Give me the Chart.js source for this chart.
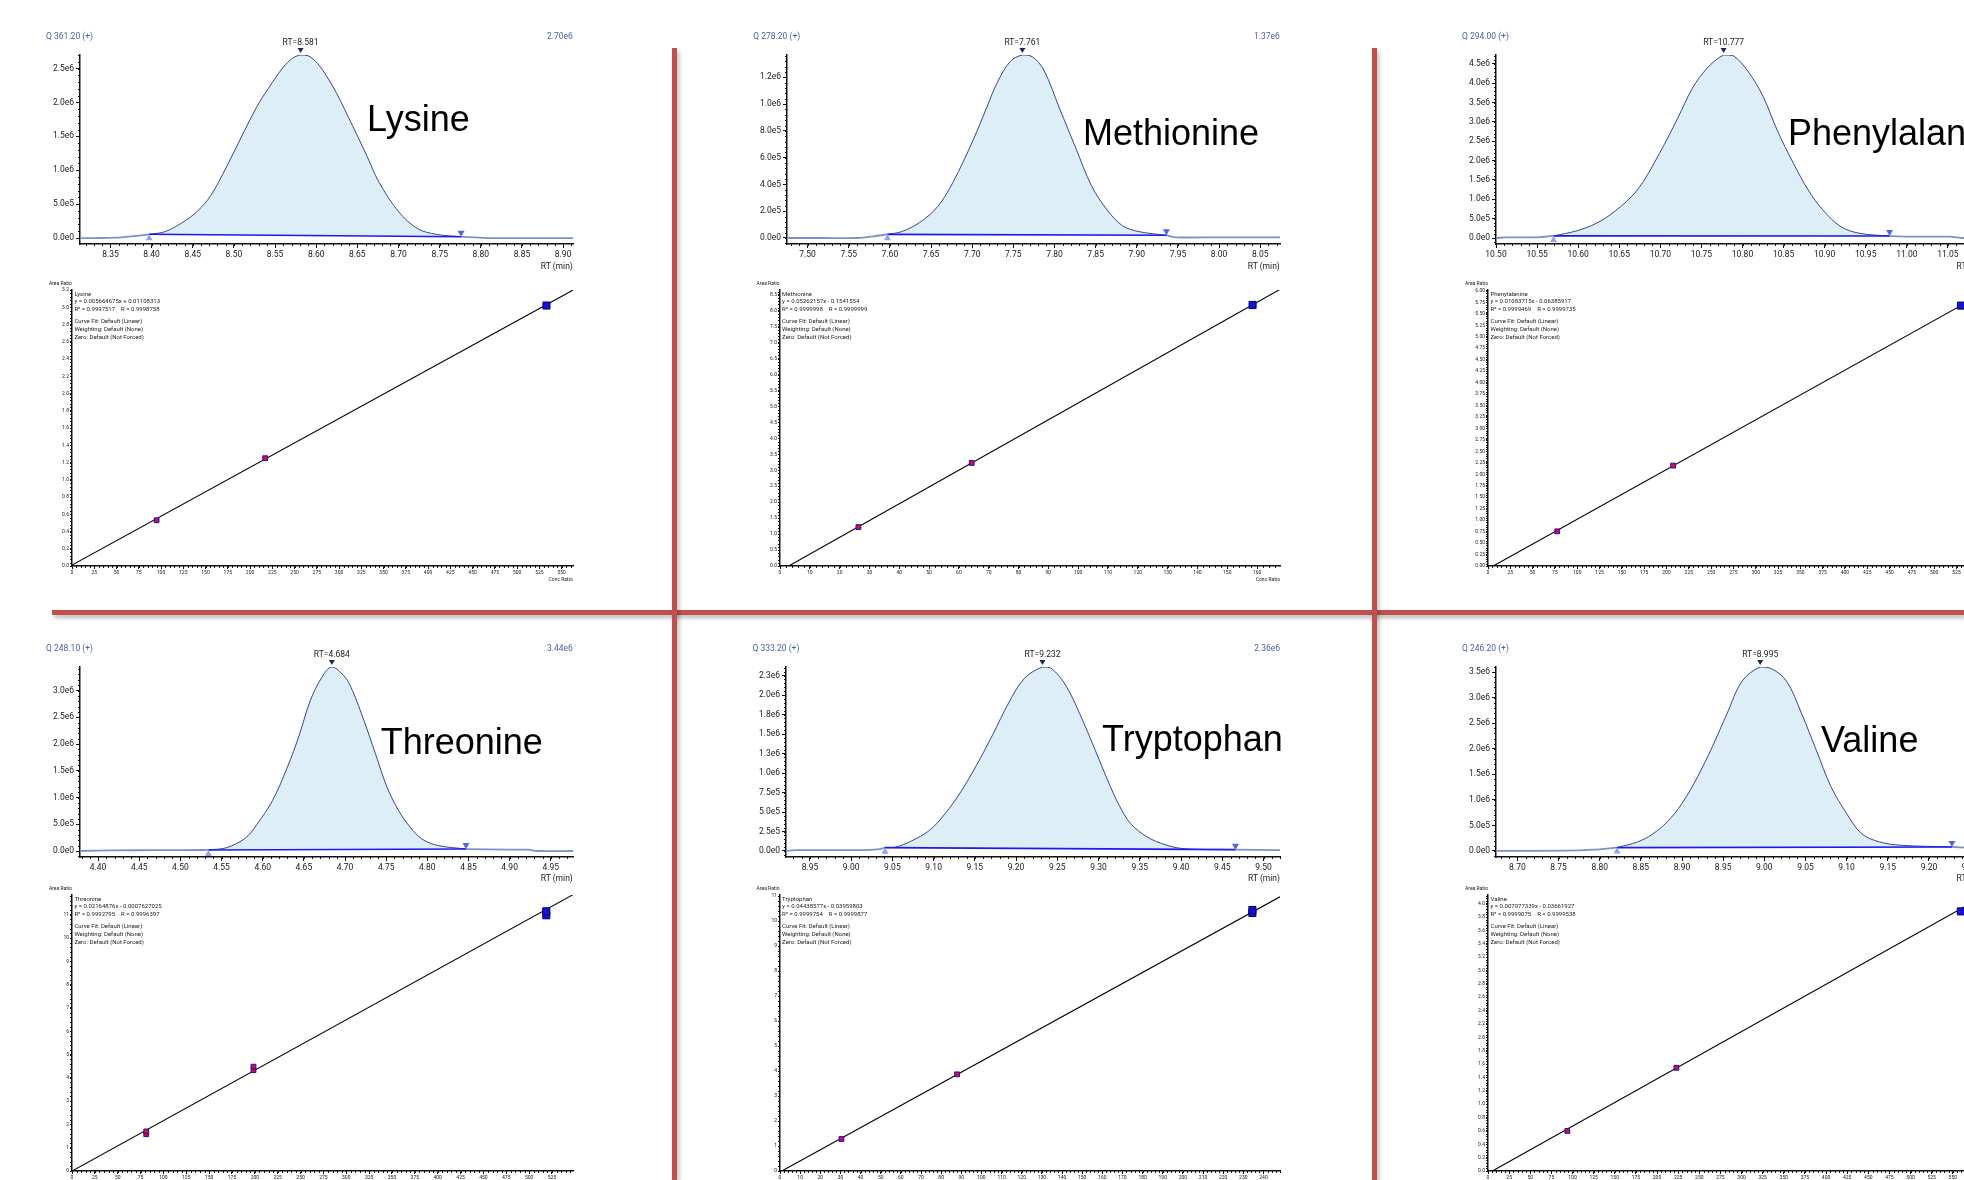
<!DOCTYPE html>
<html>
<head>
<meta charset="utf-8">
<script src="https://cdn.jsdelivr.net/npm/chart.js@4.4.1/dist/chart.umd.min.js"></script>
<style>
  html, body { margin: 0; padding: 0; background: #fff; overflow: hidden; }
  body { width: 1964px; height: 1180px; position: relative; font-family: Roboto, 'Liberation Sans', sans-serif; }
  canvas { position: absolute; }
  .t { position: absolute; white-space: nowrap; line-height: 1; }
  .name { position: absolute; white-space: nowrap; line-height: 1; font-family: 'Liberation Sans', Arial, sans-serif; font-size: 36px; color: #000; }
  .sep { position: absolute; background: #c0504d; box-shadow: 2px 3px 4px rgba(0,0,0,0.28); }
</style>
</head>
<body>
<div class="sep" style="left:52px; top:610px; width:1912px; height:5px;"></div>
<div class="sep" style="left:672px; top:48px; width:5px; height:1132px;"></div>
<div class="sep" style="left:1372px; top:48px; width:5px; height:1132px;"></div>
<script>
// ---- chromatogram traces: RT (min) / intensity (millions of counts)
const lysRt  = [8.313, 8.330, 8.356, 8.380, 8.397, 8.416, 8.437, 8.456, 8.472, 8.491, 8.509, 8.528, 8.542, 8.560, 8.571, 8.581, 8.590, 8.602, 8.613, 8.625, 8.644, 8.662, 8.676, 8.700, 8.723, 8.746, 8.776, 8.806, 8.850, 8.912];
const lysInt = [0, 0, 0.005, 0.03, 0.055, 0.093, 0.226, 0.40, 0.63, 1.05, 1.49, 1.94, 2.21, 2.52, 2.65, 2.70, 2.69, 2.57, 2.38, 2.13, 1.66, 1.20, 0.83, 0.39, 0.14, 0.054, 0.02, 0, 0, 0];
const lysPeak = [8.581, 8.397, 8.776];   // apex, start, end

const metRt  = [7.475, 7.520, 7.561, 7.580, 7.597, 7.614, 7.636, 7.658, 7.677, 7.701, 7.718, 7.730, 7.746, 7.761, 7.773, 7.787, 7.806, 7.826, 7.845, 7.864, 7.883, 7.903, 7.936, 7.948, 8.000, 8.074];
const metInt = [0, 0, 0, 0.012, 0.027, 0.047, 0.115, 0.234, 0.42, 0.73, 0.98, 1.155, 1.317, 1.367, 1.354, 1.255, 0.97, 0.67, 0.39, 0.209, 0.09, 0.047, 0.02, 0.005, 0.005, 0.005];
const metPeak = [7.761, 7.597, 7.936];

const pheRt  = [10.500, 10.513, 10.549, 10.570, 10.599, 10.622, 10.644, 10.672, 10.699, 10.721, 10.739, 10.757, 10.777, 10.789, 10.807, 10.825, 10.843, 10.862, 10.880, 10.898, 10.920, 10.943, 10.979, 11.015, 11.052, 11.069, 11.100];
const pheInt = [0, 0.017, 0.017, 0.055, 0.19, 0.38, 0.68, 1.24, 2.19, 3.09, 3.87, 4.39, 4.73, 4.71, 4.30, 3.66, 2.75, 1.93, 1.24, 0.72, 0.29, 0.12, 0.05, 0.034, 0.034, 0, 0];
const phePeak = [10.777, 10.570, 10.979];

const thrRt  = [4.378, 4.416, 4.470, 4.528, 4.534, 4.556, 4.579, 4.593, 4.612, 4.630, 4.644, 4.658, 4.672, 4.684, 4.700, 4.709, 4.723, 4.737, 4.751, 4.765, 4.779, 4.793, 4.812, 4.847, 4.900, 4.923, 4.933, 4.977];
const thrInt = [0, 0.012, 0.015, 0.019, 0.02, 0.062, 0.243, 0.498, 0.946, 1.568, 2.15, 2.82, 3.25, 3.44, 3.249, 3.0, 2.44, 1.817, 1.195, 0.759, 0.448, 0.23, 0.106, 0.037, 0.025, 0.025, 0, 0];
const thrPeak = [4.684, 4.534, 4.847];

const trpRt  = [8.921, 8.932, 9.013, 9.032, 9.041, 9.054, 9.073, 9.095, 9.114, 9.133, 9.152, 9.172, 9.191, 9.210, 9.232, 9.243, 9.260, 9.277, 9.296, 9.311, 9.325, 9.339, 9.359, 9.383, 9.407, 9.466, 9.520];
const trpInt = [0, 0.01, 0.01, 0.02, 0.043, 0.05, 0.128, 0.265, 0.48, 0.76, 1.10, 1.50, 1.90, 2.213, 2.36, 2.34, 2.128, 1.764, 1.293, 0.908, 0.586, 0.351, 0.18, 0.073, 0.026, 0.017, 0.01];
const trpPeak = [9.232, 9.041, 9.466];

const valRt  = [8.674, 8.760, 8.792, 8.821, 8.846, 8.864, 8.882, 8.900, 8.919, 8.937, 8.955, 8.973, 8.995, 9.009, 9.027, 9.045, 9.063, 9.081, 9.100, 9.118, 9.140, 9.167, 9.228, 9.243, 9.273];
const valInt = [0, 0.007, 0.026, 0.066, 0.177, 0.328, 0.57, 0.93, 1.455, 2.045, 2.70, 3.323, 3.60, 3.565, 3.323, 2.70, 1.979, 1.258, 0.734, 0.341, 0.177, 0.111, 0.079, 0.066, 0.05];
const valPeak = [8.995, 8.821, 9.228];

// ---- calibration standards: conc ratio / area ratio, fit [slope, intercept], [R2, R]
const lysConc  = [95, 217, 533];
const lysRatio = [0.53, 1.25, 3.02];
const lysFit = [0.005664675, 0.01108313];
const lysR = ['0.9997517', '0.9998758'];

const metConc  = [26.3, 64.3, 158.5];
const metRatio = [1.22, 3.23, 8.18];
const metFit = [0.05262157, -0.1541554];
const metR = ['0.9999998', '0.9999999'];

const pheConc  = [77.6, 207.4, 530];
const pheRatio = [0.756, 2.19, 5.68];
const pheFit = [0.01083715, -0.06385917];
const pheR = ['0.9999469', '0.9999735'];

const thrConc  = [81.2, 81.2, 198.5, 198.5, 518.8, 518.8];
const thrRatio = [1.58, 1.70, 4.33, 4.48, 10.98, 11.15];
const thrFit = [0.02164876, -0.0007627025];
const thrR = ['0.9992795', '0.9996397'];

const trpConc  = [30.5, 87.9, 234.5, 234.5];
const trpRatio = [1.28, 3.87, 10.33, 10.45];
const trpFit = [0.04438577, -0.03959803];
const trpR = ['0.9999754', '0.9999877'];

const valConc  = [93.9, 222.9, 559.5];
const valRatio = [0.60, 1.545, 3.885];
const valFit = [0.007077339, -0.03661927];
const valR = ['0.9999075', '0.9999538'];

// ---- helpers
function label(text, x, y, size, color, align) {
  const d = document.createElement('div');
  d.className = 't';
  d.textContent = text;
  d.style.left = x + 'px';
  d.style.top = y + 'px';
  d.style.fontSize = size + 'px';
  d.style.color = color;
  const tx = align === 'right' ? '-100%' : align === 'center' ? '-50%' : '0';
  d.style.transform = 'translate(' + tx + ', -50%)';
  document.body.appendChild(d);
  return d;
}

function bigName(text, x, y) {
  const d = document.createElement('div');
  d.className = 'name';
  d.textContent = text;
  d.style.left = x + 'px';
  d.style.top = y + 'px';
  d.style.transform = 'translateY(-50%)';
  document.body.appendChild(d);
}

function makeCanvas(box, axisW, axisH, padTop, padRight) {
  const c = document.createElement('canvas');
  c.width = Math.round(axisW + (box.r - box.l) + padRight);
  c.height = Math.round(padTop + (box.b - box.t) + axisH);
  c.style.left = (box.l - axisW) + 'px';
  c.style.top = (box.t - padTop) + 'px';
  document.body.appendChild(c);
  return c;
}

const minorTicks = {
  id: 'minorTicks',
  afterDraw(chart, args, opts) {
    const ctx = chart.ctx;
    ctx.save();
    ctx.strokeStyle = '#111';
    ctx.lineWidth = 1;
    ctx.beginPath();
    ['x', 'y'].forEach(id => {
      const s = chart.scales[id];
      const step = opts[id];
      if (!step) return;
      for (let i = Math.ceil(s.min / step - 1e-6); i * step <= s.max + 1e-9; i++) {
        const p = Math.round(s.getPixelForValue(i * step)) + 0.5;
        if (id === 'x') {
          ctx.moveTo(p, s.top);
          ctx.lineTo(p, s.top + opts.len);
        } else {
          ctx.moveTo(s.right, p);
          ctx.lineTo(s.right - opts.len, p);
        }
      }
    });
    ctx.stroke();
    ctx.restore();
  }
};

function tri(ctx, x, tipY, w, h, up, color) {
  ctx.beginPath();
  ctx.moveTo(x, tipY);
  ctx.lineTo(x - w / 2, up ? tipY + h : tipY - h);
  ctx.lineTo(x + w / 2, up ? tipY + h : tipY - h);
  ctx.closePath();
  ctx.fillStyle = color;
  ctx.fill();
}

const peakMarks = {
  id: 'peakMarks',
  afterDatasetsDraw(chart, args, opts) {
    if (!opts.apex) return;
    const ctx = chart.ctx, x = chart.scales.x, y = chart.scales.y;
    ctx.save();
    const ax = x.getPixelForValue(opts.apex[0]), ay = y.getPixelForValue(opts.apex[1]);
    tri(ctx, ax, ay - 2, 6, 5, false, '#1b2566');
    ctx.fillStyle = '#222';
    ctx.font = '8.5px Roboto';
    ctx.textAlign = 'center';
    ctx.textBaseline = 'middle';
    ctx.fillText('RT=' + opts.apex[0].toFixed(3), ax, ay - 12);
    tri(ctx, x.getPixelForValue(opts.start[0]), y.getPixelForValue(opts.start[1]), 7, 6, true, '#8fa3f2');
    tri(ctx, x.getPixelForValue(opts.end[0]), y.getPixelForValue(opts.end[1]), 7, 6, false, '#4f66e0');
    ctx.restore();
  }
};

function axisOpts(min, max, step, fmt, fixSize, horizontal, font, tl, pad) {
  return {
    type: 'linear',
    min: min, max: max,
    border: { display: true, color: '#111', width: 1.5 },
    grid: { drawOnChartArea: false, drawTicks: true, tickLength: tl, color: '#111' },
    ticks: { stepSize: step, includeBounds: false, autoSkip: false, maxRotation: 0,
             padding: pad, color: '#1a1a1a', font: { family: 'Roboto', size: font }, callback: fmt },
    afterFit: horizontal ? (s => { s.height = fixSize; }) : (s => { s.width = fixSize; })
  };
}

// ---- chromatogram panel
function chrom(box, rt, inten, peak, yMin, yStep, name, namePos, q, maxLabel) {
  const yMax = Math.max(...inten);
  const pts = rt.map((v, i) => ({ x: v, y: inten[i] }));
  const at = t => inten[rt.indexOf(t)];
  const start = [peak[1], at(peak[1])];
  const end = [peak[2], at(peak[2])];
  const c = makeCanvas(box, 40, 20, 22, 24);
  new Chart(c, {
    type: 'line',
    data: {
      datasets: [
        { data: pts.filter(p => p.x <= peak[1]), borderColor: '#7f8fcb', borderWidth: 1.8, pointRadius: 0, tension: 0.3, order: 4 },
        { data: pts.filter(p => p.x >= peak[2]), borderColor: '#7f8fcb', borderWidth: 1.8, pointRadius: 0, tension: 0.3, order: 4 },
        { data: pts.filter(p => p.x >= peak[1] && p.x <= peak[2]), borderColor: '#34468f', borderWidth: 1,
          pointRadius: 0, tension: 0.35, fill: 3, backgroundColor: '#ddeef6', order: 3 },
        { data: [{ x: start[0], y: start[1] }, { x: end[0], y: end[1] }], borderColor: '#1a1af0', borderWidth: 1.6, pointRadius: 0, order: 1 }
      ]
    },
    options: {
      responsive: false, animation: false, events: [],
      layout: { padding: { top: 22, right: 24, left: 0, bottom: 0 } },
      scales: {
        x: axisOpts(rt[0], rt[rt.length - 1], 0.05, v => v.toFixed(2), 20, true, 8.5, 4, 2),
        y: axisOpts(yMin, yMax, yStep, v => (v * 1e6).toExponential(1).replace('+', ''), 40, false, 8.5, 4, 2)
      },
      plugins: {
        legend: { display: false }, tooltip: { enabled: false },
        minorTicks: { x: 0.01, y: yStep / 5, len: 2 },
        peakMarks: { apex: [peak[0], yMax], start: start, end: end }
      }
    },
    plugins: [minorTicks, peakMarks]
  });
  label(q, box.l - 33.5, box.t - 19, 8.5, '#4a5fa8', 'left');
  if (maxLabel) label(maxLabel, box.r, box.t - 19, 8.5, '#4a5fa8', 'right');
  label('RT (min)', box.r, box.b + 21.5, 8.5, '#1a1a1a', 'right');
  bigName(name, namePos[0], namePos[1]);
}

// ---- calibration panel
function calib(box, conc, ratio, fit, r, name, xMax, xStep, yMax, yStep, yDec) {
  const top = Math.max(...conc);
  const x0 = Math.max(0, -fit[1] / fit[0]);
  const small = [], big = [];
  conc.forEach((v, i) => (v === top ? big : small).push({ x: v, y: ratio[i] }));
  const c = makeCanvas(box, 20, 12, 8, 20);
  new Chart(c, {
    type: 'scatter',
    data: {
      datasets: [
        { type: 'line', data: [{ x: x0, y: fit[0] * x0 + fit[1] }, { x: xMax, y: fit[0] * xMax + fit[1] }],
          borderColor: '#000', borderWidth: 1.1, pointRadius: 0, order: 3 },
        { data: small, pointStyle: 'rect', pointRadius: 3.4, backgroundColor: '#e01010', borderColor: '#1010e0', borderWidth: 1, order: 2 },
        { data: big, pointStyle: 'rect', pointRadius: 5, backgroundColor: '#1414d2', borderColor: '#00006e', borderWidth: 1, order: 1 }
      ]
    },
    options: {
      responsive: false, animation: false, events: [],
      layout: { padding: { top: 8, right: 20, left: 0, bottom: 0 } },
      scales: {
        x: axisOpts(0, xMax, xStep, v => v.toFixed(0), 12, true, 5, 3, 1),
        y: axisOpts(0, yMax, yStep, v => v.toFixed(yDec), 20, false, 5, 2, 1)
      },
      plugins: {
        legend: { display: false }, tooltip: { enabled: false },
        minorTicks: { x: xStep / 5, y: yStep / 5, len: 2 }
      }
    },
    plugins: [minorTicks]
  });
  const sign = fit[1] < 0 ? ' - ' : ' + ';
  const lx = box.l + 2.5;
  label(name, lx, box.t + 4, 6, '#1a1a1a', 'left');
  label('y = ' + fit[0] + 'x' + sign + Math.abs(fit[1]), lx, box.t + 11, 6, '#1a1a1a', 'left');
  label('R\u00b2 = ' + r[0] + '    R = ' + r[1], lx, box.t + 18.7, 6, '#1a1a1a', 'left').style.whiteSpace = 'pre';
  label('Curve Fit: Default (Linear)', lx, box.t + 31, 6, '#1a1a1a', 'left');
  label('Weighting: Default (None)', lx, box.t + 39, 6, '#1a1a1a', 'left');
  label('Zero: Default (Not Forced)', lx, box.t + 47, 6, '#1a1a1a', 'left');
  label('Area Ratio', box.l - 23, box.t - 7, 5, '#1a1a1a', 'left');
  label('Conc Ratio', box.r, box.b + 13, 5, '#1a1a1a', 'right');
}

chrom({ l: 79.6, t: 55, r: 572.8, b: 244 }, lysRt, lysInt, lysPeak, -0.088, 0.5, 'Lysine', [367, 119], 'Q 361.20 (+)', '2.70e6');
chrom({ l: 786.8, t: 55, r: 1279.8, b: 244 }, metRt, metInt, metPeak, -0.045, 0.2, 'Methionine', [1083, 132.5], 'Q 278.20 (+)', '1.37e6');
chrom({ l: 1495.5, t: 55, r: 1988.5, b: 244 }, pheRt, pheInt, phePeak, -0.155, 0.5, 'Phenylalanine', [1788, 132.5], 'Q 294.00 (+)', null);
chrom({ l: 79.6, t: 667, r: 572.8, b: 856.7 }, thrRt, thrInt, thrPeak, -0.112, 0.5, 'Threonine', [380.7, 741.5], 'Q 248.10 (+)', '3.44e6');
chrom({ l: 786, t: 667, r: 1280, b: 856.7 }, trpRt, trpInt, trpPeak, -0.077, 0.25, 'Tryptophan', [1102, 739.2], 'Q 333.20 (+)', '2.36e6');
chrom({ l: 1495.5, t: 667, r: 1988.5, b: 856.7 }, valRt, valInt, valPeak, -0.118, 0.5, 'Valine', [1821, 740.2], 'Q 246.20 (+)', null);

calib({ l: 71.9, t: 290, r: 572.8, b: 566 }, lysConc, lysRatio, lysFit, lysR, 'Lysine', 562.8, 25, 3.2, 0.2, 1);
calib({ l: 779.6, t: 290, r: 1280, b: 566 }, metConc, metRatio, metFit, metR, 'Methionine', 167.7, 10, 8.65, 0.5, 1);
calib({ l: 1488, t: 290, r: 1989, b: 566 }, pheConc, pheRatio, pheFit, pheR, 'Phenylalanine', 561.4, 25, 6.02, 0.25, 2);
calib({ l: 71.9, t: 895, r: 572.8, b: 1170.7 }, thrConc, thrRatio, thrFit, thrR, 'Threonine', 548, 25, 11.85, 1, 0);
calib({ l: 779.6, t: 895, r: 1280, b: 1170.7 }, trpConc, trpRatio, trpFit, trpR, 'Tryptophan', 248.2, 10, 11.05, 1, 0);
calib({ l: 1488, t: 895, r: 1989, b: 1170.7 }, valConc, valRatio, valFit, valR, 'Valine', 592.8, 25, 4.13, 0.2, 1);
</script>
</body>
</html>
